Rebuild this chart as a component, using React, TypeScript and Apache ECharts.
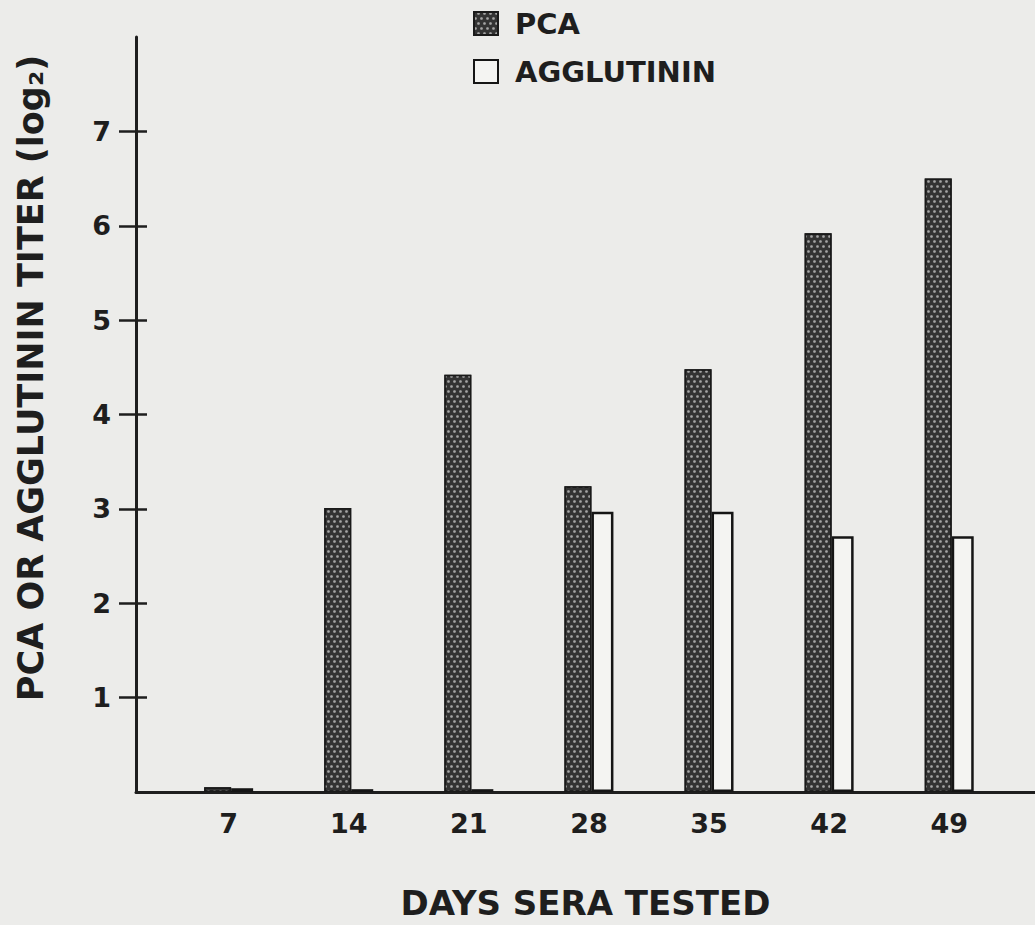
import React, { useEffect, useRef } from "react";
import * as echarts from "echarts";

const days = [7, 14, 21, 28, 35, 42, 49];
const pcaValues = [0.05, 3.01, 4.42, 3.24, 4.48, 5.92, 6.5];
const agglutininValues = [0.04, 0.03, 0.03, 2.97, 2.97, 2.71, 2.71];
const yTicks = [1, 2, 3, 4, 5, 6, 7];

const FONT = "DejaVu Sans";
const INK = "#1e1e1e";

export default function App() {
  const ref = useRef<HTMLDivElement>(null);
  useEffect(() => {
    if (!ref.current) return;
    const chart = echarts.init(ref.current, null, { renderer: "svg" });
    chart.setOption({
      animation: false,
      backgroundColor: "#ececea",
      textStyle: { fontFamily: FONT, color: INK },
      legend: {
        orient: "vertical",
        left: 468,
        top: 4,
        icon: "rect",
        itemWidth: 24,
        itemHeight: 23,
        itemGap: 19,
        textStyle: { fontFamily: FONT, fontWeight: "bold", fontSize: 29, color: INK, padding: [0, 0, 0, 12] },
        data: ["PCA", "AGGLUTININ"],
      },
      grid: { left: 136, right: 0, top: 37, bottom: 130 },
      xAxis: {
        type: "value",
        min: 1.6,
        max: 54,
        splitLine: { show: false },
        axisLine: { show: true, lineStyle: { color: INK, width: 3 } },
        axisTick: { show: false },
        axisLabel: {
          customValues: days,
          fontFamily: FONT,
          fontWeight: "bold",
          fontSize: 27,
          color: INK,
          margin: 18,
        },
        name: "DAYS SERA TESTED",
        nameLocation: "middle",
        nameGap: 94,
        nameTextStyle: { fontFamily: FONT, fontWeight: "bold", fontSize: 34, color: INK },
      },
      yAxis: [
        {
          type: "value",
          min: 0,
          max: 8,
          splitLine: { show: false },
          axisLine: { show: true, onZero: false, lineStyle: { color: INK, width: 3 } },
          axisTick: { show: true, customValues: yTicks, length: 17, lineStyle: { color: INK, width: 2.5 } },
          axisLabel: {
            customValues: yTicks,
            fontFamily: FONT,
            fontWeight: "bold",
            fontSize: 27,
            color: INK,
            margin: 25,
          },
        },
        {
          type: "value",
          min: 0,
          max: 8,
          position: "left",
          splitLine: { show: false },
          axisLine: { show: false },
          axisTick: { show: true, inside: true, customValues: yTicks, length: 11, lineStyle: { color: INK, width: 2.5 } },
          axisLabel: { show: false },
        },
      ],
      graphic: [
        {
          type: "text",
          x: 31,
          y: 378,
          rotation: Math.PI / 2,
          style: {
            text: "PCA OR AGGLUTININ TITER (log₂)",
            fontFamily: FONT,
            fontWeight: "bold",
            fontSize: 35,
            fill: INK,
            textAlign: "center",
            textVerticalAlign: "middle",
          },
        },
      ],
      series: [
        {
          name: "PCA",
          type: "bar",
          barWidth: 27,
          barGap: "0%",
          data: days.map((d, i) => [d, pcaValues[i]]),
          itemStyle: {
            color: "#333333",
            borderColor: "#1a1a1a",
            borderWidth: 1.5,
            decal: {
              symbol: "circle",
              symbolSize: 0.9,
              color: "rgba(215,215,215,0.7)",
              dashArrayX: [[3, 3], [0, 3, 3, 0]],
              dashArrayY: [3, 2],
            },
          },
        },
        {
          name: "AGGLUTININ",
          type: "bar",
          barWidth: 22,
          barGap: "0%",
          data: days.map((d, i) => [d, agglutininValues[i]]),
          itemStyle: { color: "#f4f4f2", borderColor: "#151515", borderWidth: 2.5 },
        },
      ],
    });
    return () => chart.dispose();
  }, []);
  return <div ref={ref} style={{ width: 1035, height: 925, position: "absolute", left: 0, top: 0 }} />;
}
